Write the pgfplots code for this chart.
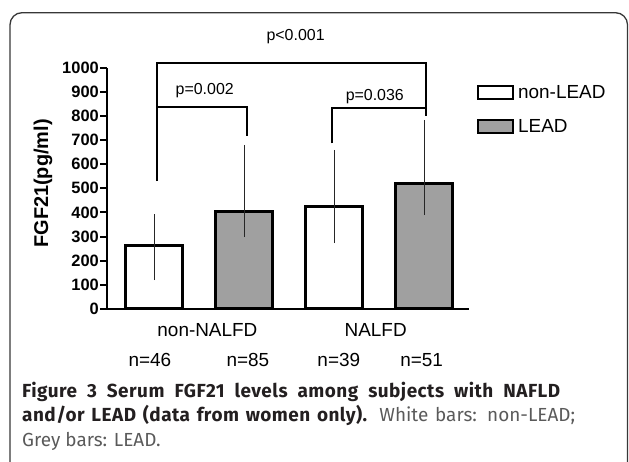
\documentclass[border=0pt]{standalone}
\usepackage{fontspec}
\setmainfont{Liberation Sans}
\newfontfamily\capfont{Fira Sans}
\newfontfamily\capfontls[LetterSpace=2.5]{Fira Sans}
\usepackage{pgfplots}
\pgfplotsset{compat=1.18}
\definecolor{bargray}{RGB}{160,160,160}
\definecolor{boxline}{RGB}{55,55,55}
\definecolor{capbold}{RGB}{35,31,32}
\definecolor{capreg}{RGB}{90,90,90}

\begin{document}
\begin{tikzpicture}[x=1bp,y=1bp]
\useasboundingbox (0,0) rectangle (629,462);
\clip (0,0) rectangle (629,462);
\draw[boxline, line width=1.3bp, rounded corners=12bp] (10,-30) rectangle (627.5,449.3);

\begin{axis}[
  at={(107bp,153bp)}, anchor=south west,
  scale only axis, width=362bp, height=241.4bp,
  xmin=-0.526, xmax=3.497, ymin=0, ymax=1000,
  axis lines*=left,
  axis line style={line width=2.2bp, black},
  xtick=\empty,
  ytick={0,100,200,300,400,500,600,700,800,900,1000},
  yticklabels={0,100,200,300,400,500,600,700,800,900,1000},
  tick align=outside, major tick length=7bp,
  ytick style={line width=2bp, black},
  yticklabel style={font=\bfseries\fontsize{16.5}{16.5}\selectfont, inner sep=1bp},
  ylabel={FGF21(pg/ml)},
  every axis y label/.style={at={(rel axis cs:-0.177,0.52)}, rotate=90, anchor=center,
    font=\bfseries\fontsize{20}{20}\selectfont},
  ybar, bar width=57bp, bar shift=0pt,
  clip=false,
  legend image code/.code={\draw[#1, line width=2bp] (0bp,-6.5bp) rectangle (35bp,6.5bp);},
  legend style={at={(rel axis cs:1.022,0.937)}, anchor=north west, draw=none, fill=none,
    inner sep=0pt, row sep=16bp, column sep=2bp, font=\fontsize{19}{19}\selectfont},
  legend cell align=left,
]
\addplot[draw=black, fill=white, line width=3bp,
  error bars/.cd, y dir=both, y explicit, error mark=none,
  error bar style={line width=0.9bp, black!85}]
  coordinates {(0,261) += (0,132) -= (0,141) (2,426) += (0,233) -= (0,153)};
\addlegendentry{non-LEAD}
\addplot[draw=black, fill=bargray, line width=3bp,
  error bars/.cd, y dir=both, y explicit, error mark=none,
  error bar style={line width=0.9bp, black!85}]
  coordinates {(1,405) += (0,275) -= (0,107) (3,521) += (0,262) -= (0,132)};
\addlegendentry{LEAD}

% significance brackets
\draw[line width=2.2bp] (axis cs:0.03,530) -- (axis cs:0.03,1018) -- (axis cs:3.02,1018) -- (axis cs:3.02,800);
\draw[line width=2.2bp] (axis cs:0.03,837) -- (axis cs:1.03,837) -- (axis cs:1.03,716);
\draw[line width=2.2bp] (axis cs:1.97,686) -- (axis cs:1.97,834) -- (axis cs:3.02,834);
\node[font=\fontsize{16}{16}\selectfont] at (axis cs:1.57,1127) {p<0.001};
\node[font=\fontsize{16}{16}\selectfont] at (axis cs:0.56,903) {p=0.002};
\node[font=\fontsize{16}{16}\selectfont] at (axis cs:2.45,878) {p=0.036};

% group and count labels
\node[font=\fontsize{19}{19}\selectfont] at (axis cs:0.59,-87) {non-NALFD};
\node[font=\fontsize{19}{19}\selectfont] at (axis cs:2.46,-87) {NALFD};
\node[font=\fontsize{19}{19}\selectfont] at (axis cs:-0.05,-211) {n=46};
\node[font=\fontsize{19}{19}\selectfont] at (axis cs:1.04,-211) {n=85};
\node[font=\fontsize{19}{19}\selectfont] at (axis cs:2.05,-211) {n=39};
\node[font=\fontsize{19}{19}\selectfont] at (axis cs:2.97,-211) {n=51};
\end{axis}

% caption (justified lines)
\node[anchor=base west, inner sep=0pt, font=\capfontls\bfseries\fontsize{19}{19}\selectfont, text=capbold]
  at (22,64.3) {\makebox[538bp][s]{Figure 3 Serum FGF21 levels among subjects with NAFLD}};
\node[anchor=base west, inner sep=0pt, font=\capfont\fontsize{19}{19}\selectfont, text=capreg]
  at (22,40.3) {\makebox[553bp][s]{\textcolor{capbold}{\capfontls\bfseries and/or LEAD (data from women only).} White bars: non-LEAD;}};
\node[anchor=base west, inner sep=0pt, font=\capfont\fontsize{19}{19}\selectfont, text=capreg]
  at (22,15.3) {Grey bars: LEAD.};
\end{tikzpicture}
\end{document}
